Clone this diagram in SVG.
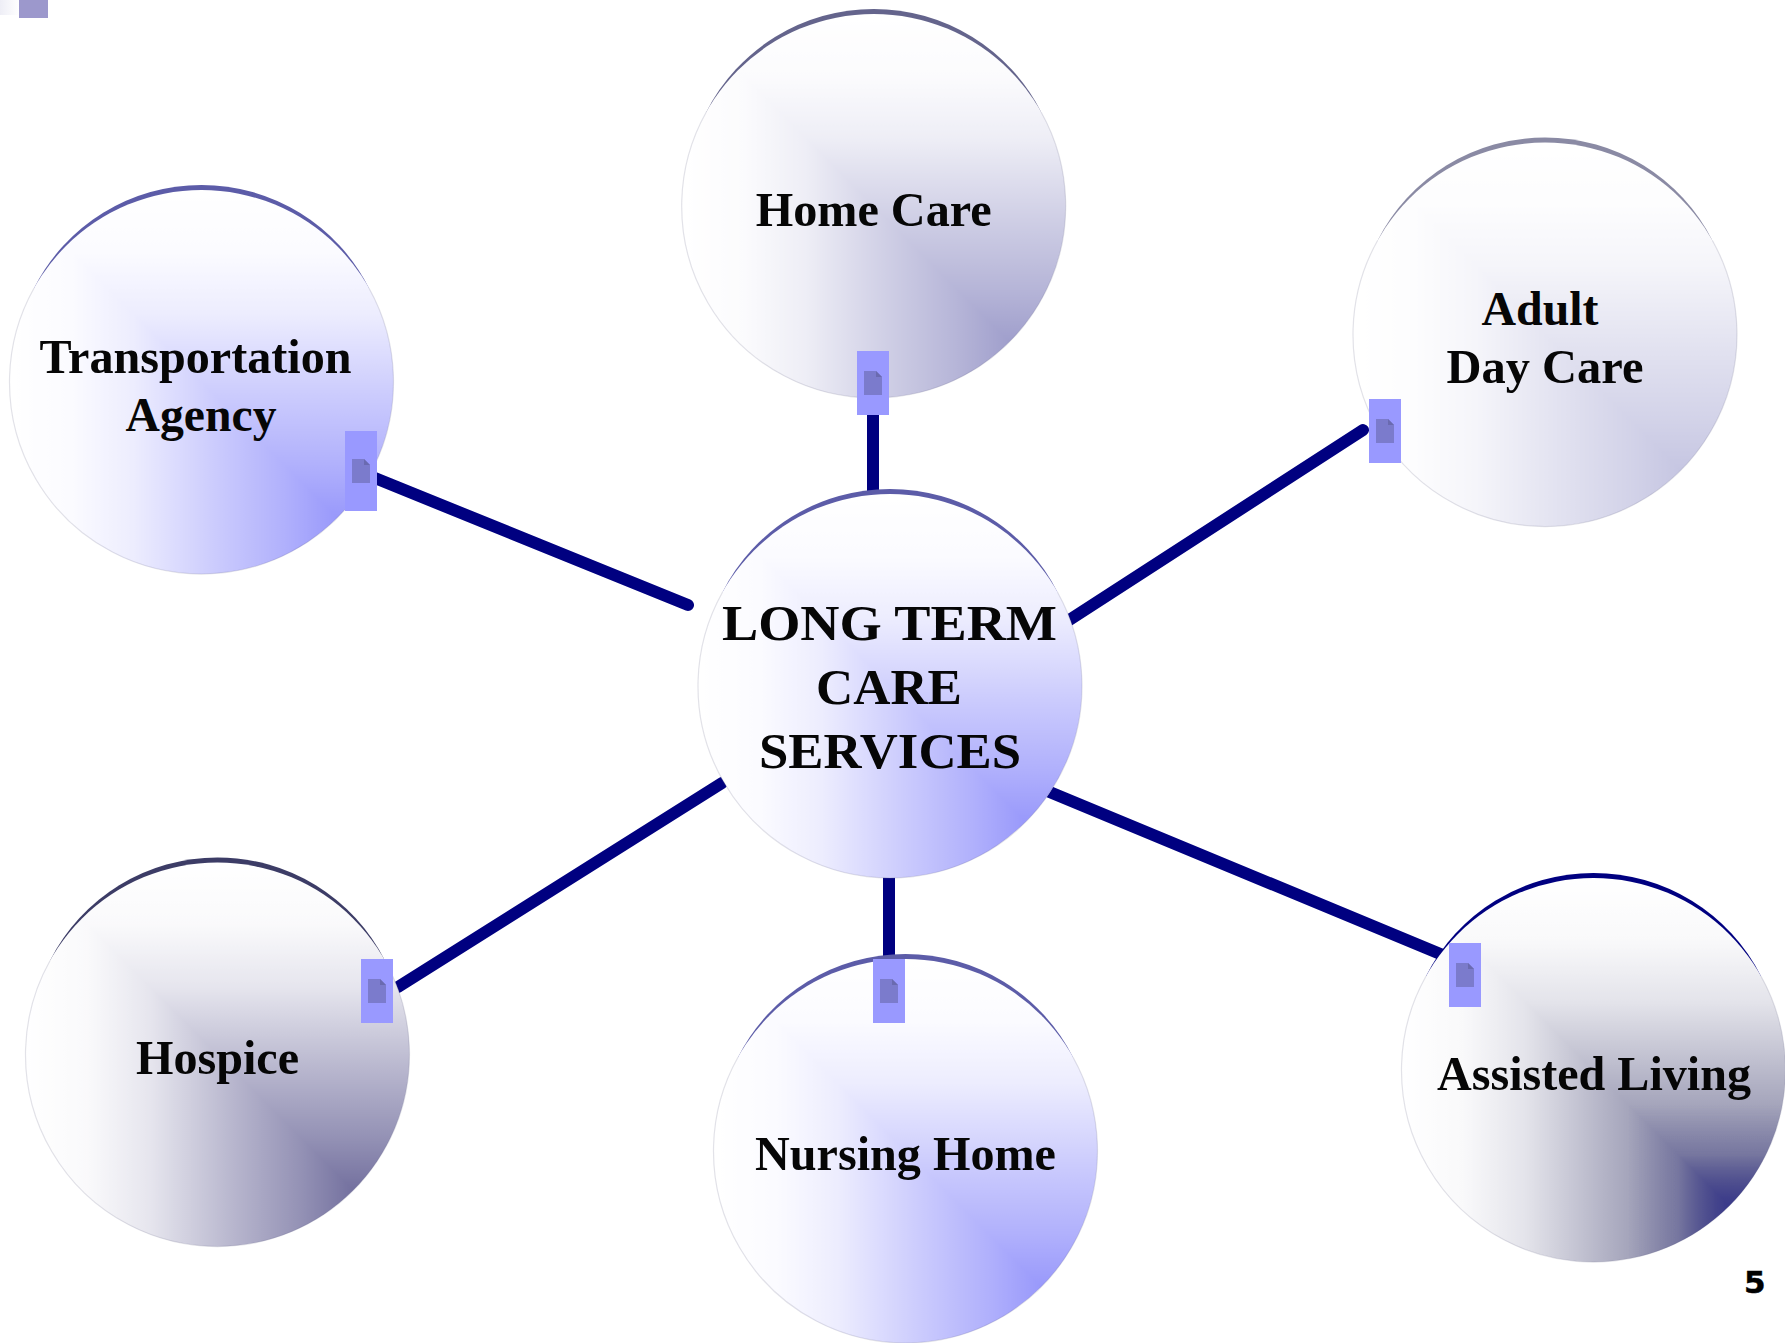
<svg xmlns="http://www.w3.org/2000/svg" xmlns:xlink="http://www.w3.org/1999/xlink" width="1785" height="1343" viewBox="0 0 1785 1343">
<style>
.conn{stroke:#000080;stroke-width:12;stroke-linecap:round;fill:none}
.lbl{font-family:"Liberation Serif","Times New Roman",serif;font-weight:bold;font-size:48px;fill:#060606;text-anchor:middle}
.big{font-size:50px}
.page{font-family:"DejaVu Sans",sans-serif;font-weight:bold;font-size:31px;fill:#000;stroke:#000;stroke-width:.5}
.badge{fill:#9999ff}
.ring{fill:none;stroke:#70708c;stroke-opacity:.2;stroke-width:1.2}
.violet{color:#9999fb;fill:#5c5ca8}
.slate{color:#a09fcc;fill:#64648c}
.pale{color:#c6c6e2;fill:#8a8aa4}
.dusk{color:#74719f;fill:#3c3c66}
.navy{color:#66668c;fill:#000080}
</style>
<defs>
<linearGradient id="lumH" gradientUnits="userSpaceOnUse" x1="-192" y1="0" x2="135" y2="0">
<stop offset="0" stop-color="#000"/><stop offset=".19" stop-color="#0a0a0a"/><stop offset=".38" stop-color="#2e2e2e"/><stop offset=".625" stop-color="#808080"/><stop offset=".84" stop-color="#c4c4c4"/><stop offset="1" stop-color="#fff"/>
</linearGradient>
<linearGradient id="lumV" xlink:href="#lumH" gradientUnits="userSpaceOnUse" x1="0" y1="-190" x2="0" y2="137"/>
<linearGradient id="deepH" gradientUnits="userSpaceOnUse" x1="35" y1="0" x2="135" y2="0"><stop offset="0" stop-color="#000"/><stop offset=".5" stop-color="#3a3a3a"/><stop offset="1" stop-color="#fff"/></linearGradient>
<linearGradient id="deepV" xlink:href="#deepH" gradientUnits="userSpaceOnUse" x1="0" y1="37" x2="0" y2="137"/>
<mask id="shade" maskUnits="userSpaceOnUse" x="-200" y="-200" width="400" height="400" style="mask-type:luminance">
<rect x="-200" y="-200" width="400" height="400" fill="url(#lumH)"/>
<path d="M-200-198 L200 202 L200-198Z" fill="url(#lumV)"/>
</mask>
<mask id="deep" maskUnits="userSpaceOnUse" x="-200" y="-200" width="400" height="400" style="mask-type:luminance">
<rect x="-200" y="-200" width="400" height="400" fill="url(#deepH)"/>
<path d="M-200-198 L200 202 L200-198Z" fill="url(#deepV)"/>
</mask>
<linearGradient id="corner" x1="0" x2="1" y1="0" y2="0"><stop offset="0" stop-color="#eeeef6"/><stop offset="1" stop-color="#fff"/></linearGradient>
<g id="ball">
<path d="M-167.4-92 A187.5 187.5 0 0 1 167.4-92Z"/>
<circle cy="2" r="192" fill="#fff"/>
<circle cy="2" r="192" fill="currentColor" mask="url(#shade)"/>
<path class="ring" d="M-167.4-92 A192 192 0 1 0 167.4-92"/>
</g>
<g id="doc">
<path d="M0 0H12L18 6V24H0Z" fill="#7b7bcc"/>
<path d="M12 0L18 6H12Z" fill="#6a6ab0"/>
</g>
</defs>
<rect width="1785" height="1343" fill="#fff"/>
<rect x="0" y="0" width="19" height="15" fill="url(#corner)"/>
<rect x="19" y="0" width="29" height="18" fill="#9c98cc"/>
<g id="connectors">
<line class="conn" x1="370" y1="476" x2="688" y2="605"/>
<line class="conn" x1="873" y1="410" x2="873" y2="500"/>
<line class="conn" x1="1363" y1="430" x2="1060" y2="626"/>
<line class="conn" x1="398" y1="987" x2="722" y2="783"/>
<line class="conn" x1="889" y1="870" x2="889" y2="965"/>
<line class="conn" x1="1040" y1="788" x2="1450" y2="958"/>
</g>
<g id="node-transportation">
<use class="violet" xlink:href="#ball" transform="translate(201.5 380)"/>
<text class="lbl" x="195.5" y="372.5" textLength="312" lengthAdjust="spacingAndGlyphs">Transportation</text>
<text class="lbl" x="201" y="430.5" textLength="151" lengthAdjust="spacingAndGlyphs">Agency</text>
<rect class="badge" x="345" y="431" width="32" height="80"/>
<use xlink:href="#doc" x="352" y="459"/>
</g>
<g id="node-home-care">
<use class="slate" xlink:href="#ball" transform="translate(873.7 204)"/>
<text class="lbl" x="873.7" y="226" textLength="236" lengthAdjust="spacingAndGlyphs">Home Care</text>
<rect class="badge" x="857" y="351" width="32" height="64"/>
<use xlink:href="#doc" x="864" y="371"/>
</g>
<g id="node-adult-day-care">
<use class="pale" xlink:href="#ball" transform="translate(1545 332.5)"/>
<text class="lbl" x="1540" y="325" textLength="117" lengthAdjust="spacingAndGlyphs">Adult</text>
<text class="lbl" x="1545" y="382.5" textLength="197" lengthAdjust="spacingAndGlyphs">Day Care</text>
<rect class="badge" x="1369" y="399" width="32" height="64"/>
<use xlink:href="#doc" x="1376" y="419"/>
</g>
<g id="node-center">
<use class="violet" xlink:href="#ball" transform="translate(890 684)"/>
<text class="lbl big" x="889.5" y="640" textLength="335" lengthAdjust="spacingAndGlyphs">LONG TERM</text>
<text class="lbl big" x="889" y="704" textLength="146" lengthAdjust="spacingAndGlyphs">CARE</text>
<text class="lbl big" x="890" y="768" textLength="262" lengthAdjust="spacingAndGlyphs">SERVICES</text>
</g>
<g id="node-hospice">
<use class="dusk" xlink:href="#ball" transform="translate(217.5 1052.5)"/>
<text class="lbl" x="217.5" y="1074" textLength="163" lengthAdjust="spacingAndGlyphs">Hospice</text>
<rect class="badge" x="361" y="959" width="32" height="64"/>
<use xlink:href="#doc" x="368" y="979"/>
</g>
<g id="node-nursing-home">
<use class="violet" xlink:href="#ball" transform="translate(905.5 1149)"/>
<text class="lbl" x="905.5" y="1170" textLength="301" lengthAdjust="spacingAndGlyphs">Nursing Home</text>
<rect class="badge" x="873" y="959" width="32" height="64"/>
<use xlink:href="#doc" x="880" y="979"/>
</g>
<g id="node-assisted-living">
<use class="navy" xlink:href="#ball" transform="translate(1593.5 1068)"/>
<circle cy="2" r="192" fill="#3a3a8a" mask="url(#deep)" transform="translate(1593.5 1068)"/>
<text class="lbl" x="1594" y="1089.5" textLength="314" lengthAdjust="spacingAndGlyphs">Assisted Living</text>
<rect class="badge" x="1449" y="943" width="32" height="64"/>
<use xlink:href="#doc" x="1456" y="963"/>
</g>
<text class="page" x="1744" y="1293">5</text>
</svg>
